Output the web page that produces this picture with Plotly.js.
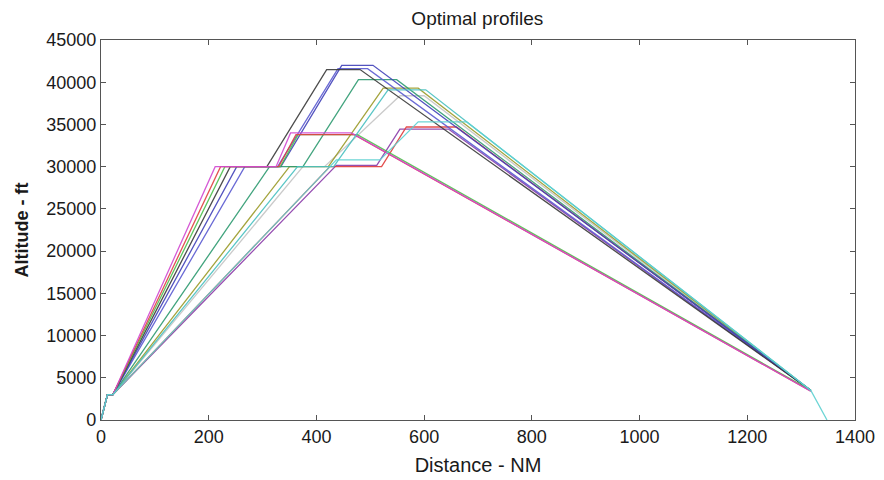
<!DOCTYPE html>
<html>
<head>
<meta charset="utf-8">
<script src="https://cdn.plot.ly/plotly-3.0.1.min.js"></script>
<style>html,body{margin:0;padding:0;background:#fff;}#chart{width:884px;height:480px;}</style>
</head>
<body>
<div id="chart"></div>
<script>
// Distance (NM) and altitude (ft) of each optimal profile
const magentaDist = [0, 12, 22, 212, 325, 352, 465, 1318];
const magentaAlt  = [0, 3000, 3000, 30000, 30000, 34000, 34000, 3400];
const redDist     = [0, 12, 22, 222, 330, 362, 470, 1318];
const redAlt      = [0, 3000, 3000, 30000, 30000, 33800, 33800, 3400];
const greenDist   = [0, 12, 22, 230, 333, 366, 476, 1318];
const greenAlt    = [0, 3000, 3000, 30000, 30000, 33800, 33800, 3500];
const blackDist   = [0, 12, 22, 240, 308, 419, 481, 1318];
const blackAlt    = [0, 3000, 3000, 30000, 30000, 41500, 41500, 3500];
const blueDist    = [0, 12, 22, 252, 334, 447, 505, 1318];
const blueAlt     = [0, 3000, 3000, 30000, 30000, 42000, 42000, 3500];
const blue2Dist   = [0, 12, 22, 267, 328, 440, 495, 1318];
const blue2Alt    = [0, 3000, 3000, 30000, 30000, 41600, 41600, 3500];
const tealDist    = [0, 12, 22, 313, 375, 478, 549, 1318];
const tealAlt     = [0, 3000, 3000, 30000, 30000, 40300, 40300, 3500];
const oliveDist   = [0, 12, 22, 350, 422, 524, 589, 1318];
const oliveAlt    = [0, 3000, 3000, 30000, 30000, 39300, 39300, 3500];
const cyanDist    = [0, 12, 22, 365, 432, 533, 603, 1318];
const cyanAlt     = [0, 3000, 3000, 30000, 30000, 39100, 39100, 3500];
const greyDist    = [0, 12, 22, 375, 415, 555, 600, 1318];
const greyAlt     = [0, 3000, 3000, 30000, 30000, 38400, 38400, 3500];
const purpleDist  = [0, 12, 22, 437, 512, 555, 645, 1318];
const purpleAlt   = [0, 3000, 3000, 30150, 30150, 34450, 34450, 3500];
const red2Dist    = [0, 12, 22, 425, 521, 567, 660, 1318];
const red2Alt     = [0, 3000, 3000, 30000, 30000, 34700, 34700, 3500];
const cyan2Dist   = [0, 12, 22, 437, 518, 589, 679, 1318, 1348];
const cyan2Alt    = [0, 3000, 3000, 30800, 30800, 35300, 35300, 3500, 0];

const xTicks = [0, 200, 400, 600, 800, 1000, 1200, 1400];
const yTicks = [0, 5000, 10000, 15000, 20000, 25000, 30000, 35000, 40000, 45000];

const series = [
  [greyDist, greyAlt, '#c4c4c4'],
  [purpleDist, purpleAlt, '#8a3aa8'],
  [red2Dist, red2Alt, '#e03a3a'],
  [oliveDist, oliveAlt, '#9a9a28'],
  [tealDist, tealAlt, '#2e9a70'],
  [blue2Dist, blue2Alt, '#5a5ad0'],
  [blueDist, blueAlt, '#4040b8'],
  [blackDist, blackAlt, '#383838'],
  [greenDist, greenAlt, '#4cc04c'],
  [redDist, redAlt, '#e04040'],
  [magentaDist, magentaAlt, '#d048d0'],
  [cyanDist, cyanAlt, '#48c0c0'],
  [cyan2Dist, cyan2Alt, '#5cd0d0']
];

const traces = series.map(s => ({
  x: s[0], y: s[1], type: 'scatter', mode: 'lines',
  line: {color: s[2], width: 1.3}, opacity: 0.9, hoverinfo: 'skip'
}));

const fnt = {family: 'Liberation Sans, Arial, sans-serif', color: '#1a1a1a'};
const axisCommon = {
  showline: true, linecolor: '#555', linewidth: 1.2, mirror: 'allticks',
  ticks: 'inside', ticklen: 5, tickcolor: '#555', showgrid: false, zeroline: false,
  tickfont: Object.assign({size: 18}, fnt), tickformat: 'd'
};

const layout = {
  width: 884, height: 480,
  margin: {l: 101, r: 29, t: 40, b: 60},
  paper_bgcolor: '#fff', plot_bgcolor: '#fff',
  showlegend: false,
  title: {text: 'Optimal profiles', font: Object.assign({size: 19}, fnt), x: 0.54, xanchor: 'center', y: 0.962, yanchor: 'middle'},
  xaxis: Object.assign({}, axisCommon, {
    range: [0, 1400], tickvals: xTicks, ticktext: xTicks.map(String),
    title: {text: 'Distance - NM', font: Object.assign({size: 20}, fnt), standoff: 12}
  }),
  yaxis: Object.assign({}, axisCommon, {
    range: [0, 45000], tickvals: yTicks, ticktext: yTicks.map(String),
    title: {text: '<b>Altitude - ft</b>', font: Object.assign({size: 18}, fnt), standoff: 12}
  })
};

Plotly.newPlot('chart', traces, layout, {displayModeBar: false, staticPlot: true});
</script>
</body>
</html>
